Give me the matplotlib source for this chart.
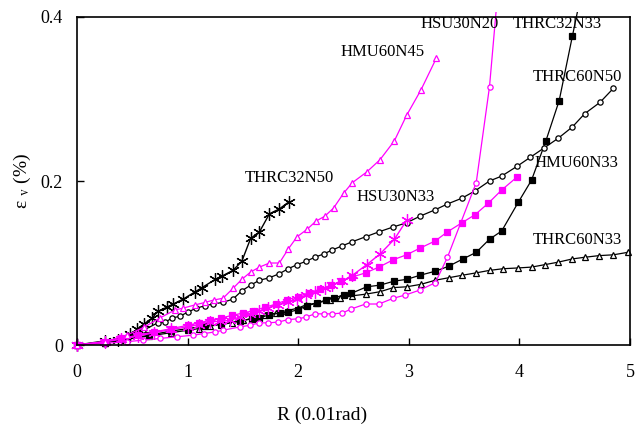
import matplotlib
matplotlib.use("Agg")
import matplotlib.pyplot as plt
from matplotlib.patches import Rectangle

plt.rcParams['font.family'] = ['Liberation Serif', 'DejaVu Serif']
plt.rcParams['mathtext.fontset'] = 'stix'

# ---- data ----
thrc32n50_x = [0, 0.25, 0.37, 0.48, 0.54, 0.61, 0.68, 0.73, 0.81, 0.87, 0.96, 1.07, 1.13, 1.25, 1.31, 1.41, 1.49, 1.57, 1.65, 1.74, 1.83, 1.92]
thrc32n50_y = [0, 0.005, 0.006, 0.013, 0.019, 0.026, 0.033, 0.041, 0.046, 0.050, 0.056, 0.065, 0.070, 0.080, 0.084, 0.091, 0.102, 0.130, 0.138, 0.160, 0.166, 0.175]

hmu60n45_x = [0, 0.25, 0.45, 0.61, 0.75, 0.89, 0.96, 1.07, 1.16, 1.24, 1.32, 1.41, 1.49, 1.57, 1.65, 1.74, 1.83, 1.91, 1.99, 2.08, 2.16, 2.24, 2.32, 2.41, 2.49, 2.62, 2.74, 2.87, 2.98, 3.11, 3.25]
hmu60n45_y = [0, 0.004, 0.012, 0.022, 0.033, 0.043, 0.045, 0.049, 0.052, 0.055, 0.057, 0.069, 0.080, 0.089, 0.095, 0.100, 0.100, 0.117, 0.132, 0.141, 0.151, 0.157, 0.167, 0.185, 0.198, 0.211, 0.226, 0.249, 0.280, 0.311, 0.350]

thrc60n50_x = [0, 0.25, 0.45, 0.6, 0.73, 0.80, 0.86, 0.93, 1.0, 1.08, 1.16, 1.23, 1.32, 1.41, 1.49, 1.57, 1.65, 1.74, 1.83, 1.91, 1.99, 2.07, 2.15, 2.23, 2.31, 2.40, 2.49, 2.61, 2.73, 2.86, 2.98, 3.10, 3.24, 3.35, 3.48, 3.60, 3.73, 3.84, 3.98, 4.10, 4.22, 4.35, 4.48, 4.59, 4.73, 4.85]
thrc60n50_y = [0, 0.004, 0.010, 0.018, 0.027, 0.028, 0.033, 0.035, 0.040, 0.045, 0.048, 0.050, 0.052, 0.056, 0.066, 0.073, 0.079, 0.082, 0.087, 0.093, 0.098, 0.102, 0.107, 0.111, 0.116, 0.121, 0.126, 0.132, 0.138, 0.144, 0.149, 0.157, 0.165, 0.172, 0.179, 0.188, 0.200, 0.206, 0.218, 0.229, 0.240, 0.252, 0.266, 0.282, 0.296, 0.313]

hsu30n33_x = [0, 0.25, 0.4, 0.55, 0.7, 0.85, 1.0, 1.1, 1.20, 1.29, 1.38, 1.47, 1.56, 1.65, 1.73, 1.82, 1.91, 1.99, 2.07, 2.15, 2.24, 2.31, 2.40, 2.49, 2.62, 2.74, 2.87, 2.98]
hsu30n33_y = [0, 0.004, 0.007, 0.011, 0.015, 0.019, 0.022, 0.025, 0.028, 0.029, 0.030, 0.034, 0.038, 0.041, 0.045, 0.049, 0.052, 0.056, 0.061, 0.065, 0.070, 0.073, 0.078, 0.085, 0.098, 0.111, 0.129, 0.152]

hmu60n33_x = [0, 0.25, 0.4, 0.55, 0.7, 0.85, 1.0, 1.1, 1.2, 1.3, 1.4, 1.5, 1.6, 1.7, 1.8, 1.9, 2.0, 2.1, 2.2, 2.3, 2.39, 2.49, 2.61, 2.73, 2.86, 2.98, 3.10, 3.24, 3.35, 3.48, 3.60, 3.72, 3.84, 3.98]
hmu60n33_y = [0, 0.004, 0.008, 0.012, 0.016, 0.020, 0.024, 0.027, 0.030, 0.033, 0.036, 0.039, 0.042, 0.046, 0.050, 0.055, 0.059, 0.064, 0.068, 0.073, 0.078, 0.083, 0.088, 0.095, 0.104, 0.110, 0.118, 0.127, 0.138, 0.149, 0.159, 0.173, 0.189, 0.205]

thrc32n33_x = [0, 0.25, 0.45, 0.65, 0.85, 1.0, 1.15, 1.3, 1.47, 1.58, 1.65, 1.74, 1.84, 1.91, 2.0, 2.08, 2.17, 2.25, 2.32, 2.41, 2.48, 2.62, 2.74, 2.87, 2.98, 3.10, 3.24, 3.36, 3.49, 3.61, 3.73, 3.84, 3.99, 4.11, 4.24, 4.36, 4.48, 4.6]
thrc32n33_y = [0, 0.003, 0.007, 0.012, 0.017, 0.020, 0.023, 0.026, 0.029, 0.032, 0.033, 0.037, 0.039, 0.040, 0.043, 0.048, 0.051, 0.055, 0.057, 0.061, 0.063, 0.071, 0.073, 0.078, 0.080, 0.085, 0.090, 0.096, 0.105, 0.113, 0.129, 0.139, 0.174, 0.201, 0.249, 0.298, 0.377, 0.455]

thrc60n33_x = [0, 0.25, 0.45, 0.65, 0.85, 1.0, 1.1, 1.2, 1.3, 1.4, 1.5, 1.6, 1.7, 1.8, 1.9, 2.0, 2.07, 2.16, 2.29, 2.38, 2.49, 2.61, 2.74, 2.86, 2.98, 3.11, 3.24, 3.36, 3.48, 3.61, 3.73, 3.85, 3.99, 4.11, 4.23, 4.35, 4.48, 4.59, 4.72, 4.85, 4.98]
thrc60n33_y = [0, 0.003, 0.007, 0.011, 0.015, 0.018, 0.020, 0.023, 0.025, 0.027, 0.030, 0.033, 0.036, 0.039, 0.042, 0.045, 0.049, 0.051, 0.055, 0.057, 0.060, 0.062, 0.065, 0.070, 0.071, 0.074, 0.079, 0.082, 0.085, 0.088, 0.091, 0.093, 0.094, 0.095, 0.098, 0.101, 0.105, 0.107, 0.109, 0.110, 0.113]

hsu30n20_x = [0, 0.25, 0.45, 0.6, 0.75, 0.9, 1.05, 1.15, 1.25, 1.32, 1.47, 1.56, 1.65, 1.73, 1.82, 1.91, 2.0, 2.07, 2.15, 2.23, 2.31, 2.40, 2.48, 2.61, 2.73, 2.86, 2.97, 3.10, 3.24, 3.35, 3.61, 3.73, 3.85]
hsu30n20_y = [0, 0.002, 0.004, 0.006, 0.008, 0.010, 0.012, 0.014, 0.016, 0.018, 0.022, 0.024, 0.027, 0.027, 0.028, 0.031, 0.032, 0.034, 0.038, 0.038, 0.038, 0.039, 0.044, 0.050, 0.050, 0.057, 0.061, 0.067, 0.076, 0.107, 0.198, 0.315, 0.50]

labels = ["HSU30N20", "THRC32N33", "HMU60N45", "THRC60N50", "THRC32N50", "HSU30N33", "HMU60N33", "THRC60N33"]
label_x = [3.11, 3.94, 2.38, 4.12, 1.52, 2.53, 4.14, 4.12]
label_y = [0.391, 0.391, 0.357, 0.327, 0.204, 0.181, 0.222, 0.128]

MAG = '#FF00FF'
BLK = '#000000'

fig = plt.figure(figsize=(6.4, 4.25), dpi=100)
ax = fig.add_axes([0.1203, 0.1882, 0.8640, 0.7718])

clip = Rectangle((-0.03, -0.03), 1.06, 1.045, transform=ax.transAxes, fill=False, visible=False)
ax.add_patch(clip)

star = (6, 2, 0)
series = [
    (thrc60n33_x, thrc60n33_y, BLK, '^', 'white', 4.5, 0.9),
    (thrc32n33_x, thrc32n33_y, BLK, 's', BLK, 4.3, 0.9),
    (thrc60n50_x, thrc60n50_y, BLK, 'o', 'white', 3.8, 0.9),
    (thrc32n50_x, thrc32n50_y, BLK, star, BLK, 9, 1.0),
    (hsu30n20_x, hsu30n20_y, MAG, 'o', 'white', 3.8, 0.9),
    (hmu60n33_x, hmu60n33_y, MAG, 's', MAG, 4.3, 0.9),
    (hsu30n33_x, hsu30n33_y, MAG, star, MAG, 9, 1.0),
    (hmu60n45_x, hmu60n45_y, MAG, '^', 'white', 4.5, 0.9),
]
for xs, ys, c, m, fc, ms, lw in series:
    ln, = ax.plot(xs, ys, color=c, marker=m, markerfacecolor=fc, markeredgecolor=c,
                  markersize=ms, markeredgewidth=0.9, linewidth=lw, clip_on=True)
    ln.set_clip_path(clip)

for t, x, y in zip(labels, label_x, label_y):
    ax.text(x, y, t, fontsize=12, ha='left', va='center', color='#000000')

ax.set_xlim(0, 5)
ax.set_ylim(0, 0.4)
ax.set_xticks([0, 1, 2, 3, 4, 5])
ax.set_xticklabels(['0', '1', '2', '3', '4', '5'])
ax.set_yticks([0, 0.2, 0.4])
ax.set_yticklabels(['0', '0.2', '0.4'])
ax.tick_params(direction='in', length=5, width=1, labelsize=13)
ax.tick_params(axis='x', pad=14)
ax.tick_params(axis='y', pad=10)
for s in ax.spines.values():
    s.set_linewidth(1.2)

ax.set_xlabel('R (0.01rad)', fontsize=14)
ax.xaxis.set_label_coords(0.443, -0.213)
ax.xaxis.label.set_va('center')
ax.set_ylabel(r'ε $_{\mathrm{v}}$ (%)', fontsize=14)
ax.yaxis.set_label_coords(-0.098, 0.5)
ax.yaxis.label.set_va('center')

fig.savefig('out.png', dpi=100)
